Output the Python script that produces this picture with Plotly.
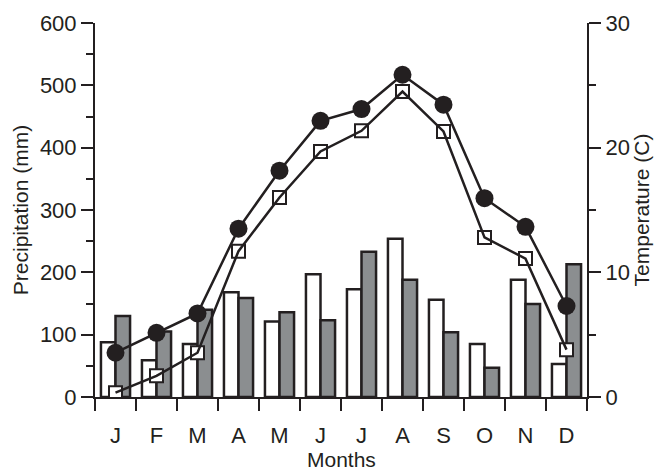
import plotly.graph_objects as go

months = ["J", "F", "M", "A", "M", "J", "J", "A", "S", "O", "N", "D"]
precip_a = [88, 59, 85, 168, 121, 197, 173, 254, 156, 85, 188, 53]
precip_b = [130, 105, 140, 159, 136, 123, 233, 188, 104, 47, 149, 213]
temp_max = [3.55, 5.15, 6.7, 13.5, 18.15, 22.15, 23.1, 25.85, 23.45, 15.95, 13.65, 7.3]
temp_min = [0.35, 1.7, 3.55, 11.7, 16.0, 19.7, 21.35, 24.5, 21.3, 12.8, 11.1, 3.8]

x = list(range(len(months)))
ink = "#231f20"
grey = "#8b8e90"
font = "Liberation Sans, Arial, Helvetica, sans-serif"

fig = go.Figure()
fig.add_trace(go.Bar(x=x, y=precip_a, marker=dict(color="white", line=dict(color=ink, width=2.5)),
                     yaxis="y", showlegend=False))
fig.add_trace(go.Bar(x=x, y=precip_b, marker=dict(color=grey, line=dict(color=ink, width=2.5)),
                     yaxis="y", showlegend=False))
fig.add_trace(go.Scatter(x=x, y=temp_max, mode="lines+markers", yaxis="y2",
                         line=dict(color=ink, width=2.5),
                         marker=dict(symbol="circle", size=18, color=ink, line=dict(width=0)),
                         showlegend=False))
fig.add_trace(go.Scatter(x=x, y=temp_min, mode="markers", yaxis="y2",
                         marker=dict(symbol="square", size=13, color="white", line=dict(color=ink, width=2)),
                         showlegend=False))
fig.add_trace(go.Scatter(x=x, y=temp_min, mode="lines", yaxis="y2",
                         line=dict(color=ink, width=2.5), showlegend=False))

fig.update_layout(
    width=656, height=470,
    margin=dict(l=95, r=69, t=23, b=73),
    paper_bgcolor="white", plot_bgcolor="white",
    barmode="group", bargap=0.29, bargroupgap=0,
    font=dict(family=font, size=22, color=ink),
    xaxis=dict(
        range=[-0.5, 11.5], tickmode="array", tickvals=x, ticktext=months, automargin=False,
        ticks="outside", ticklen=12, tickcolor="rgba(0,0,0,0)", ticklabelstandoff=6,
        showline=True, linecolor=ink, linewidth=2, showgrid=False, zeroline=False,
        minor=dict(tickmode="array", tickvals=[i - 0.5 for i in range(13)],
                   ticks="outside", ticklen=12, tickwidth=2, tickcolor=ink, showgrid=False),
        tickfont=dict(size=22),
    ),
    yaxis=dict(
        range=[0, 600], dtick=100, ticks="outside", ticklen=12, tickwidth=2, tickcolor=ink,
        automargin=False,
        showline=True, linecolor=ink, linewidth=2, showgrid=False, zeroline=False,
        minor=dict(dtick=50, ticks="outside", ticklen=7, tickwidth=2, tickcolor=ink, showgrid=False),
        title=dict(text="Precipitation (mm)", font=dict(size=21), standoff=6),
        tickfont=dict(size=22),
    ),
    yaxis2=dict(
        range=[0, 30], dtick=10, overlaying="y", side="right", automargin=False,
        ticks="outside", ticklen=12, tickwidth=2, tickcolor=ink,
        showline=True, linecolor=ink, linewidth=2, showgrid=False, zeroline=False,
        minor=dict(dtick=5, ticks="outside", ticklen=7, tickwidth=2, tickcolor=ink, showgrid=False),
        title=dict(text="Temperature (C)", font=dict(size=21), standoff=4),
        tickfont=dict(size=22),
    ),
    annotations=[dict(text="Months", xref="paper", yref="paper", x=0.5, y=-0.166,
                      xanchor="center", yanchor="middle", showarrow=False,
                      font=dict(size=21, color=ink))],
)

fig.write_html(
    "out.html",
    config={"displayModeBar": False},
    post_script="document.body.style.margin='0';document.body.style.padding='0';"
                "document.body.style.overflow='hidden';",
)
